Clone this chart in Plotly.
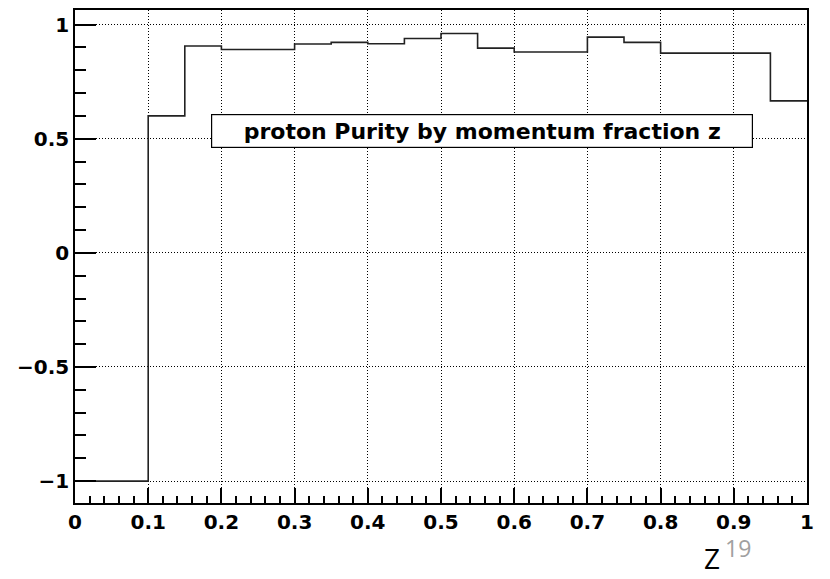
import plotly.graph_objects as go

# bin edges (z) and purity values per bin
bin_edges = [0.0, 0.05, 0.10, 0.15, 0.20, 0.25, 0.30, 0.35, 0.40, 0.45, 0.50,
             0.55, 0.60, 0.65, 0.70, 0.75, 0.80, 0.85, 0.90, 0.95, 1.00]
purity = [-1.0, -1.0, 0.600, 0.906, 0.891, 0.891, 0.915, 0.922, 0.916, 0.939,
          0.961, 0.897, 0.880, 0.880, 0.945, 0.922, 0.875, 0.875, 0.875, 0.666]

title_text = "proton Purity by momentum fraction z"

step_x = list(bin_edges)
step_y = list(purity) + [purity[-1]]

fig = go.Figure()
fig.add_trace(go.Scatter(x=step_x, y=step_y, mode="lines",
                         line=dict(shape="hv", color="#222222", width=1.6),
                         showlegend=False, hoverinfo="skip"))

axis_font = dict(family="DejaVu Sans", size=20, color="black", weight="bold")

fig.update_xaxes(range=[0, 1], dtick=0.1, tick0=0, ticks="inside", ticklen=15,
                 tickwidth=1.5, tickcolor="black",
                 minor=dict(dtick=0.02, tick0=0, ticks="inside", ticklen=7,
                            tickwidth=1.5, tickcolor="black", showgrid=False),
                 showgrid=True, gridcolor="black", griddash="1px,2px", gridwidth=1,
                 showline=True, linecolor="black", linewidth=1.5, mirror=True,
                 zeroline=False, tickfont=axis_font, ticklabelstandoff=0)
fig.update_yaxes(range=[-1.096, 1.064], dtick=0.5, tick0=0, ticks="inside", ticklen=21,
                 tickwidth=1.5, tickcolor="black",
                 minor=dict(dtick=0.1, tick0=0, ticks="inside", ticklen=11,
                            tickwidth=1.5, tickcolor="black", showgrid=False),
                 showgrid=True, gridcolor="black", griddash="1px,2px", gridwidth=1,
                 showline=True, linecolor="black", linewidth=1.5, mirror=True,
                 zeroline=False, tickfont=axis_font, ticklabelstandoff=0)

fig.add_annotation(xref="paper", yref="paper", x=0.5555, y=0.755,
                   text=title_text, showarrow=False,
                   font=dict(family="DejaVu Sans", size=22, color="black", weight="bold"),
                   bgcolor="white", bordercolor="black", borderwidth=1.2,
                   width=538, height=30, align="center",
                   xanchor="center", yanchor="middle")

fig.add_annotation(xref="paper", yref="paper", x=0.870, y=-0.111, text="Z",
                   showarrow=False, xanchor="center", yanchor="middle",
                   font=dict(family="Open Sans", size=28, color="black"))
fig.add_annotation(xref="paper", yref="paper", x=0.906, y=-0.091, text="19",
                   showarrow=False, xanchor="center", yanchor="middle",
                   font=dict(family="Open Sans", size=23, color="#a0a0a0"))

fig.update_layout(width=830, height=579, margin=dict(l=75, r=23, t=8, b=76),
                  plot_bgcolor="white", paper_bgcolor="white")

fig.write_html("out.html")
